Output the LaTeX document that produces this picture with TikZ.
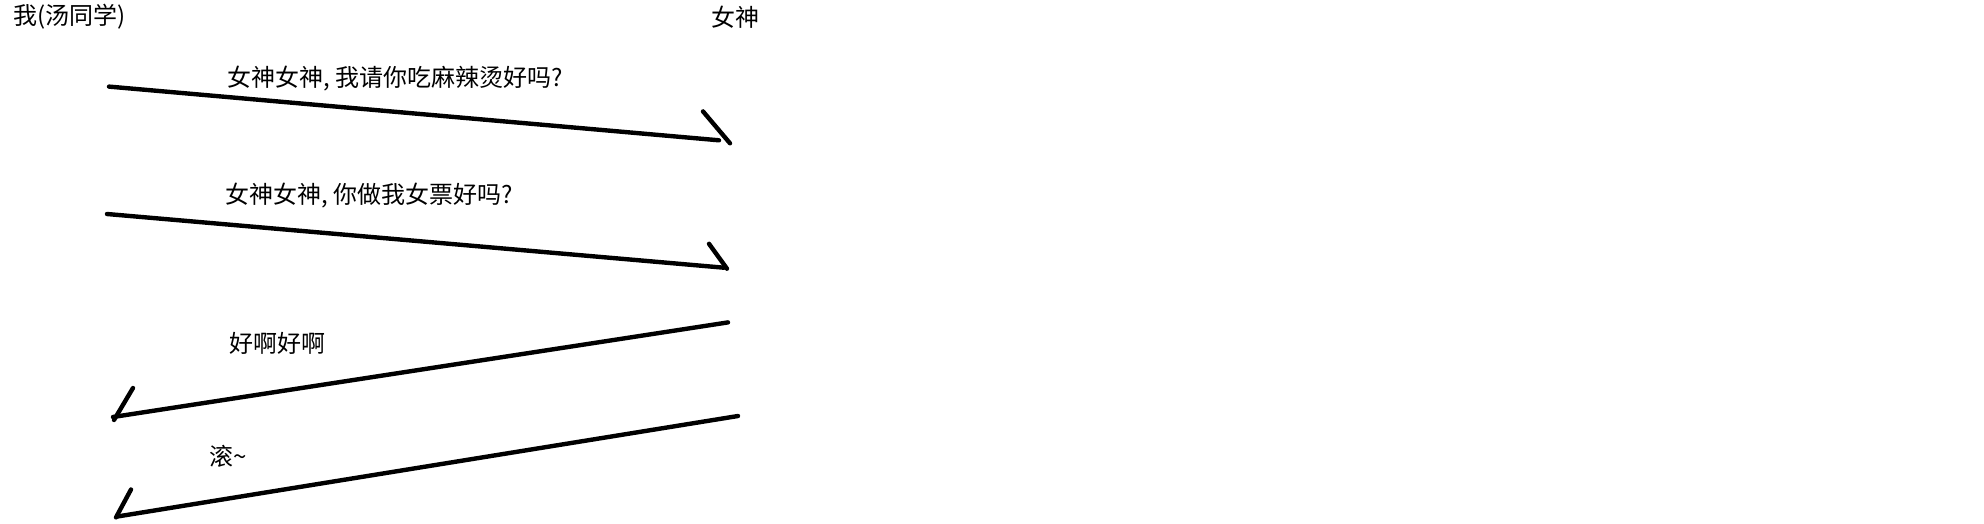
\documentclass[tikz,border=0pt]{standalone}
\usepackage{fontspec}
\setmainfont{Noto Sans CJK SC}
\begin{document}
\begin{tikzpicture}[x=1pt,y=-1pt,
  lbl/.style={inner sep=0pt, anchor=west, font=\fontsize{24}{28}\selectfont},
  stroke/.style={line width=4.4pt, line cap=round, line join=round}]
\useasboundingbox (0,0) rectangle (1984,524);
\fill[white] (0,0) rectangle (1984,524);
% participants
\node[lbl] (me) at (13,17) {我(汤同学)};
\node[lbl] (god) at (711,17) {女神};
% messages
\node[lbl] (m1) at (227,78.6) {女神女神, 我请你吃麻辣烫好吗?};
\node[lbl] (m2) at (225,196) {女神女神, 你做我女票好吗?};
\node[lbl] (m3) at (229,343) {好啊好啊};
\node[lbl] (m4) at (209,456) {滚\string~};
% arrow end points
\coordinate (a1s) at (109,86.6);  \coordinate (a1e) at (719,140.3);
\coordinate (a1h) at (703,111.4); \coordinate (a1t) at (730,143.3);
\coordinate (a2s) at (107,214);   \coordinate (a2e) at (724,267.7);
\coordinate (a2h) at (709,243.8); \coordinate (a2t) at (727,268.7);
\coordinate (a3s) at (728,322.4); \coordinate (a3e) at (113,417);
\coordinate (a3h) at (133,388);   \coordinate (a3t) at (114,420);
\coordinate (a4s) at (738,416);   \coordinate (a4e) at (118,516.4);
\coordinate (a4h) at (131,489.5); \coordinate (a4t) at (116,517.4);
% arrows (hand drawn: shaft + one barb)
\draw[stroke] (a1s) -- (a1e);
\draw[stroke] (a1h) -- (a1t);
\draw[stroke] (a2s) -- (a2e);
\draw[stroke] (a2h) -- (a2t);
\draw[stroke] (a3s) -- (a3e);
\draw[stroke] (a3h) -- (a3t);
\draw[stroke] (a4s) -- (a4e);
\draw[stroke] (a4h) -- (a4t);
\end{tikzpicture}
\end{document}
